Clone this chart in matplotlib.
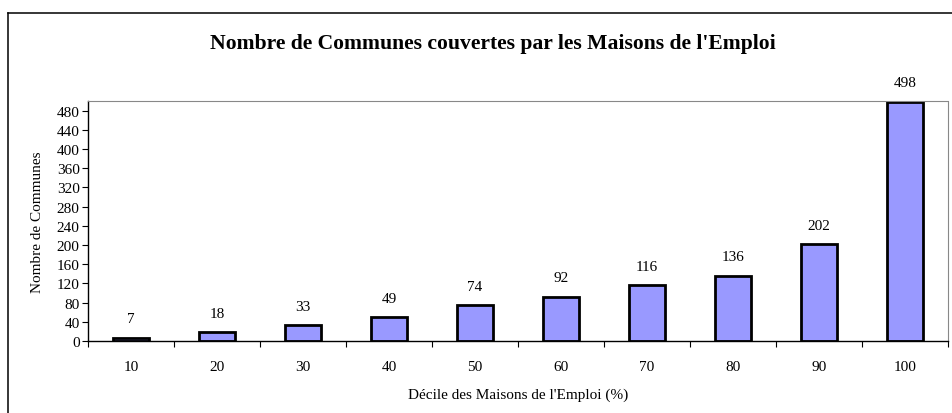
import matplotlib
matplotlib.use("Agg")
import matplotlib.pyplot as plt
import numpy as np
from matplotlib.lines import Line2D

# Data
deciles = ["10", "20", "30", "40", "50", "60", "70", "80", "90", "100"]
communes = [7, 18, 33, 49, 74, 92, 116, 136, 202, 498]
yticks = list(range(0, 481, 40))

plt.rcParams['font.family'] = ['Liberation Serif', 'DejaVu Serif']

fig = plt.figure(figsize=(9.52, 4.14), dpi=100)
ax = fig.add_axes([88/952, 72/414, 860/952, 240/414])

x = np.arange(len(deciles))
bars = ax.bar(x, communes, width=0.42, color='#9999FF', edgecolor='black', linewidth=2.0)

# value labels above bars
for xi, v in zip(x, communes):
    ax.annotate(str(v), (xi, v), xytext=(0, 9), textcoords='offset points',
                ha='center', va='bottom', fontsize=11, clip_on=False)

ax.set_xlim(-0.5, len(deciles) - 0.5)
ax.set_ylim(0, 500)
ax.set_yticks(yticks)
ax.tick_params(axis='y', labelsize=11, length=4, width=0.8, direction='out', pad=2)

# ticks at category boundaries, labels at centres
ax.set_xticks(np.arange(-0.5, len(deciles), 1.0))
ax.set_xticklabels([])
ax.set_xticks(x, minor=True)
ax.set_xticklabels(deciles, minor=True)
ax.tick_params(axis='x', which='major', length=4, width=0.8, direction='out')
ax.tick_params(axis='x', which='minor', length=0, labelsize=11, pad=14)

for s in ['left', 'bottom']:
    ax.spines[s].set_color('black')
    ax.spines[s].set_linewidth(1.0)
for s in ['top', 'right']:
    ax.spines[s].set_color('#888888')
    ax.spines[s].set_linestyle((0, (1, 1)))
    ax.spines[s].set_linewidth(0.8)

ax.set_ylabel("Nombre de Communes", fontsize=11, labelpad=9)
ax.set_xlabel("Décile des Maisons de l'Emploi (%)", fontsize=11, labelpad=10)

fig.text(493/952, 1 - 44/414, "Nombre de Communes couvertes par les Maisons de l'Emploi",
         ha='center', va='center', fontsize=15.6, fontweight='bold')

# outer chart frame (top and left edges visible)
fig.add_artist(Line2D([8/952, 8/952], [0, 1 - 14/414], transform=fig.transFigure,
                      color='black', linewidth=1.1))
fig.add_artist(Line2D([8/952, 1], [1 - 14/414, 1 - 14/414], transform=fig.transFigure,
                      color='black', linewidth=1.1))

fig.savefig("out.png", dpi=100)
